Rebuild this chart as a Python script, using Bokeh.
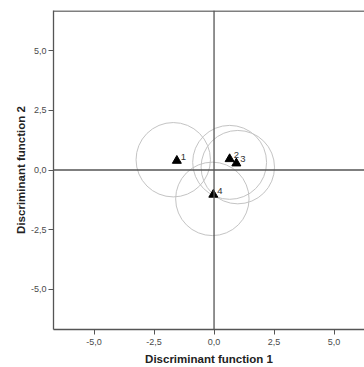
from bokeh.plotting import figure
from bokeh.models import Span, FixedTicker, Range1d
from bokeh.core.properties import value
from bokeh.embed import file_html
from bokeh.resources import INLINE

# ---- data ----
groups = ["1", "2", "3", "4"]
centroid_x = [-1.55, 0.65, 0.93, -0.03]
centroid_y = [0.39, 0.46, 0.28, -1.03]
circle_x = [-1.70, 0.65, 0.99, -0.07]
circle_y = [0.43, 0.32, 0.12, -1.21]
circle_r = [1.55, 1.54, 1.53, 1.53]
ticks = [-5.0, -2.5, 0.0, 2.5, 5.0]
tick_labels = ["-5,0", "-2,5", "0,0", "2,5", "5,0"]
x_label = "Discriminant function 1"
y_label = "Discriminant function 2"

FONT = "Liberation Sans"
AX = "#555555"

p = figure(width=364, height=367, output_backend="svg", toolbar_location=None,
           x_range=Range1d(-6.69, 6.27), y_range=Range1d(-6.68, 6.68),
           min_border_left=53, min_border_right=0, min_border_top=10,
           min_border_bottom=36)
p.outline_line_color = None
p.xgrid.visible = False
p.ygrid.visible = False
p.background_fill_color = "white"
p.border_fill_color = "white"

for ax in (p.xaxis[0], p.yaxis[0]):
    ax.ticker = FixedTicker(ticks=ticks)
    ax.major_label_overrides = dict(zip(ticks, tick_labels))
    ax.minor_tick_line_color = None
    ax.major_tick_in = 0
    ax.major_tick_out = 5
    ax.major_tick_line_color = AX
    ax.axis_line_color = AX
    ax.axis_line_width = 1.3
    ax.major_label_text_font = FONT
    ax.major_label_text_font_size = "9px"
    ax.major_label_text_color = "#4a4a4a"
    ax.major_label_text_line_height = 1.0
    ax.axis_label_text_font = FONT
    ax.axis_label_text_font_size = "11.5px"
    ax.axis_label_text_font_style = "bold"
    ax.axis_label_text_color = "#222222"
    ax.axis_label_text_line_height = 1.0

p.xaxis.major_label_standoff = 4
p.xaxis.axis_label_standoff = 5
p.yaxis.major_label_standoff = 2
p.yaxis.axis_label_standoff = 1

p.xaxis.axis_label = x_label
p.yaxis.axis_label = y_label

p.add_layout(Span(location=6.66, dimension="width", line_color=AX, line_width=1.3))
p.add_layout(Span(location=0, dimension="width", line_color=AX, line_width=1.3))
p.add_layout(Span(location=0, dimension="height", line_color=AX, line_width=1.3))

p.circle(x=circle_x, y=circle_y, radius=circle_r, fill_color=None,
         line_color="#c4c4c4", line_width=1)
p.scatter(x=centroid_x, y=centroid_y, marker="triangle", size=9,
          fill_color="black", line_color="black")
p.text(x=centroid_x, y=centroid_y, text=groups, x_offset=4, y_offset=-4,
       text_font=value(FONT), text_font_size="9.5px", text_baseline="alphabetic",
       text_color="#333333")

open("out.html", "w").write(file_html(p, INLINE))
